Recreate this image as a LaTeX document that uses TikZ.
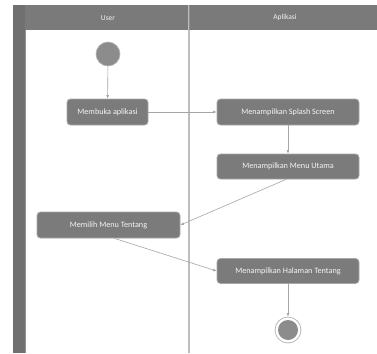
\documentclass[tikz,border=0pt]{standalone}
\usepackage{fontspec}
\setmainfont{Carlito}
\usetikzlibrary{arrows.meta}
\definecolor{hdr}{HTML}{7A7A7A}
\definecolor{boxfill}{HTML}{7B7B7B}
\definecolor{boxline}{HTML}{A8A8A8}
\definecolor{conn}{HTML}{A6A6A6}
\definecolor{lane}{HTML}{BDBDBD}
\tikzset{
  actbox/.style={draw=boxline, line width=0.8pt, fill=boxfill, rounded corners=3.5pt,
    text=white!92!gray, font=\fontsize{8.2}{10}\selectfont, inner sep=0pt, anchor=center},
  flow/.style={draw=conn, line width=0.6pt, -{Latex[length=3.5pt,width=3pt]}},
  lanetext/.style={text=white!90!gray, font=\fontsize{7.5}{9}\selectfont}
}
\begin{document}
\begin{tikzpicture}[x=1pt,y=-1pt]
\useasboundingbox (0,0) rectangle (377,353);
\fill[white] (0,0) rectangle (377,353);
% header and left band
\fill[hdr] (13,5) rectangle (377,30);
\fill[hdr!92!black] (13,5) rectangle (25,353);
\draw[hdr!80!white, line width=0.5pt] (25,30) -- (25,353);
\draw[lane, line width=1.2pt] (189,5) -- (189,353);
\draw[hdr!85!white, line width=0.6pt] (189,5) -- (189,30);
\node[lanetext] (uh) at (108,18) {User};
\node[lanetext] (ah) at (285,18) {Aplikasi};
% nodes
\node[circle, fill=gray!90, draw=gray!60, line width=0.6pt, minimum size=24pt, inner sep=0pt] (start) at (108,54) {};
\node[actbox, minimum width=81pt, minimum height=26pt] (a1) at (107.5,112) {Membuka aplikasi};
\node[actbox, minimum width=142pt, minimum height=26pt] (a2) at (288,112) {Menampilkan Splash Screen};
\node[actbox, minimum width=142pt, minimum height=25pt] (a3) at (288,166.5) {Menampilkan Menu Utama};
\node[actbox, minimum width=143pt, minimum height=26pt] (a4) at (108.5,225) {Memilih Menu Tentang};
\node[actbox, minimum width=142pt, minimum height=25pt] (a5) at (288,271) {Menampilkan Halaman Tentang};
\node[circle, draw=gray!55, line width=0.8pt, minimum size=26pt, inner sep=0pt] (end) at (288,330) {};
\node[circle, fill=gray!90, minimum size=20pt, inner sep=0pt] (endin) at (end.center) {};
\coordinate (c3) at ([xshift=-2pt]a3.south);
\coordinate (c4) at ([xshift=6pt]a4.south);
% connectors
\draw[flow] (start) -- (a1);
\draw[flow] (a1) -- (a2);
\draw[flow] (a2) -- (a3);
\draw[flow] (c3) -- (a4.east);
\draw[flow] (c4) -- (a5.west);
\draw[flow] (a5) -- (end);
\end{tikzpicture}
\end{document}
